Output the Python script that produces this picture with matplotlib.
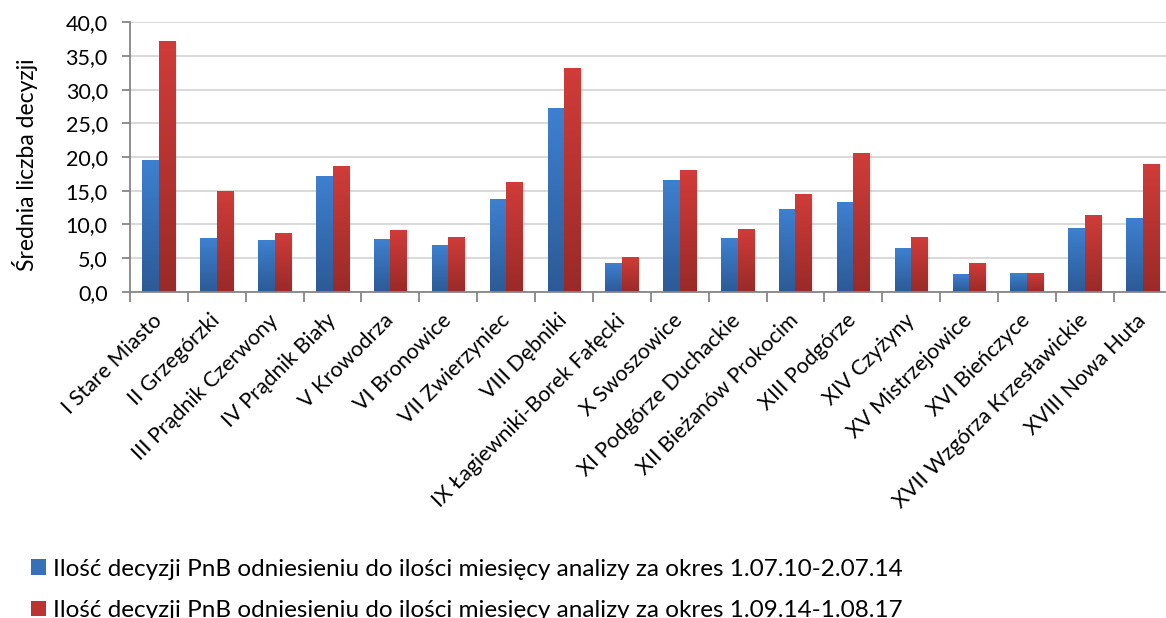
import matplotlib
matplotlib.use("Agg")
import matplotlib.pyplot as plt
import numpy as np
from matplotlib.colors import LinearSegmentedColormap
from matplotlib.patches import Patch

categories = ["I Stare Miasto", "II Grzegórzki", "III Prądnik Czerwony", "IV Prądnik Biały",
              "V Krowodrza", "VI Bronowice", "VII Zwierzyniec", "VIII Dębniki",
              "IX Łagiewniki-Borek Fałęcki", "X Swoszowice", "XI Podgórze Duchackie",
              "XII Bieżanów Prokocim", "XIII Podgórze", "XIV Czyżyny", "XV Mistrzejowice",
              "XVI Bieńczyce", "XVII Wzgórza Krzesławickie", "XVIII Nowa Huta"]
series1 = [19.5, 8.0, 7.7, 17.2, 7.8, 6.9, 13.8, 27.3, 4.3, 16.6, 8.0, 12.3, 13.3, 6.5, 2.6, 2.8, 9.5, 10.9]
series2 = [37.2, 14.9, 8.7, 18.7, 9.2, 8.1, 16.3, 33.2, 5.1, 18.1, 9.3, 14.5, 20.6, 8.1, 4.3, 2.8, 11.4, 19.0]
label1 = "Ilość decyzji PnB odniesieniu do ilości miesięcy analizy za okres 1.07.10-2.07.14"
label2 = "Ilość decyzji PnB odniesieniu do ilości miesięcy analizy za okres 1.09.14-1.08.17"
y_ticks = [0, 5, 10, 15, 20, 25, 30, 35, 40]
y_tick_labels = ["0,0", "5,0", "10,0", "15,0", "20,0", "25,0", "30,0", "35,0", "40,0"]
y_label = "Średnia liczba decyzji"

plt.rcParams['font.family'] = ['Lato', 'DejaVu Sans']

fig = plt.figure(figsize=(11.66, 6.18), dpi=100)
ax = fig.add_axes([130/1166, 1-291.7/618, (1171.6-130)/1166, (291.7-22.3)/618])

x = np.arange(len(categories))
w = 0.285
blue_cmap = LinearSegmentedColormap.from_list("b", ["#2c5a96", "#3e80d0"])
red_cmap = LinearSegmentedColormap.from_list("r", ["#992a28", "#d03c39"])

grad = np.linspace(0, 1, 256).reshape(-1, 1)
for vals, off, cmap, mid in [(series1, -w/2, blue_cmap, "#3570b8"), (series2, w/2, red_cmap, "#bb3431")]:
    bars = ax.bar(x + off, vals, width=w, color=mid, zorder=3, linewidth=0)
    for b in bars:
        x0, wd, h = b.get_x(), b.get_width(), b.get_height()
        # soft shadow
        ax.bar(x0 + wd/2 + 0.02, h, width=wd + 0.03, bottom=-0.1, color="#000000", alpha=0.06, zorder=2, linewidth=0)
        ax.imshow(grad, extent=[x0, x0 + wd, 0, h], origin='lower', aspect='auto',
                  cmap=cmap, zorder=4, interpolation='bilinear')

ax.set_xlim(-0.5, len(categories) - 0.5)
ax.set_ylim(0, 40)
ax.set_yticks(y_ticks)
ax.set_yticklabels(y_tick_labels)
ax.yaxis.grid(True, color="#d9d9d9", linewidth=1.4, zorder=0)
ax.set_axisbelow(True)

for s in ["top", "right"]:
    ax.spines[s].set_visible(False)
for s in ["left", "bottom"]:
    ax.spines[s].set_color("#868686")
    ax.spines[s].set_linewidth(1.3)
ax.spines["bottom"].set_zorder(6)

ax.set_xticks(x)
ax.set_xticklabels(categories, rotation=45, ha="right", va="center",
                   rotation_mode="anchor", fontsize=15.5)
ax.tick_params(axis="x", length=0, pad=18.5)
ax.set_xticks(np.arange(-0.5, len(categories)), minor=True)
ax.tick_params(axis="x", which="minor", length=7, width=1.3, color="#868686", direction="out")
ax.tick_params(axis="y", length=6, width=1.3, color="#868686", labelsize=15.5, pad=10)
ax.set_ylabel(y_label, fontsize=16.5)
ax.yaxis.set_label_coords(-0.088, 0.47)

handles = [Patch(facecolor="#3570b8"), Patch(facecolor="#bb3431")]
fig.legend(handles, [label1, label2], loc="upper left", bbox_to_anchor=(0.0266, 0.096),
           frameon=False, fontsize=17.5, handlelength=0.6, handleheight=0.6,
           handletextpad=0.3, labelspacing=0.85, borderaxespad=0, borderpad=0)

fig.savefig("out.png", dpi=100)
